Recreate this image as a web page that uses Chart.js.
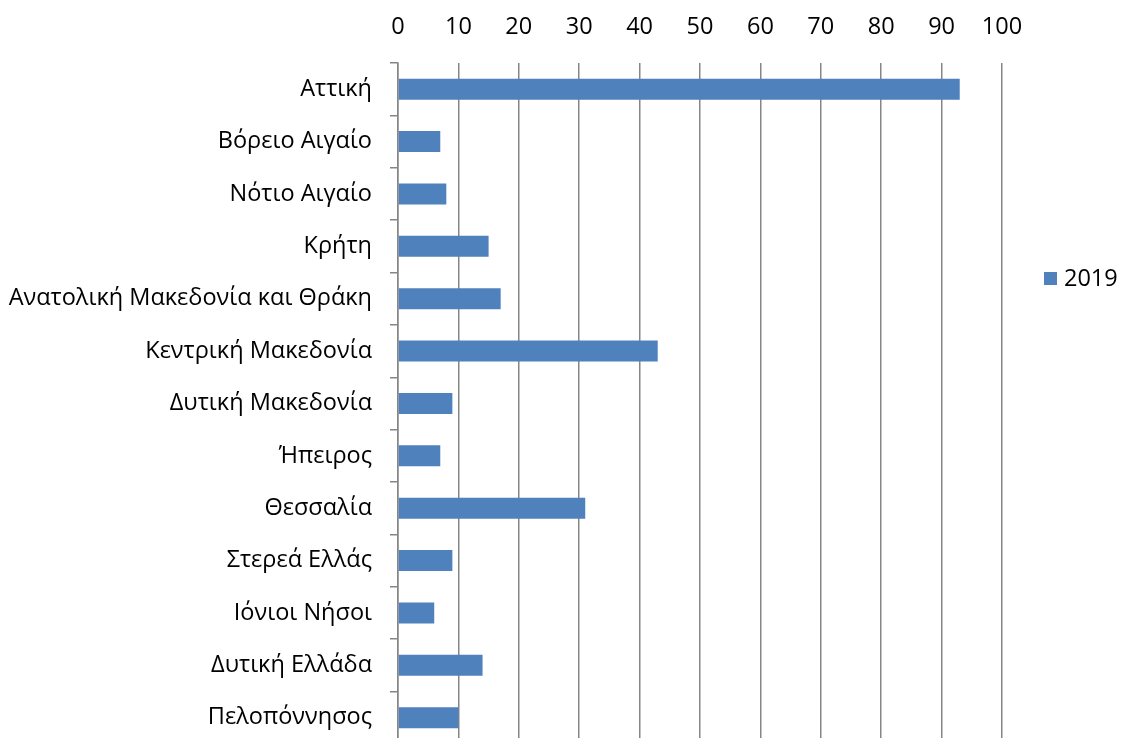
<!DOCTYPE html>
<html>
<head>
<meta charset="utf-8">
<script src="https://cdn.jsdelivr.net/npm/chart.js@4/dist/chart.umd.min.js"></script>
<style>
html,body{margin:0;padding:0;background:#fff;overflow:hidden;width:1122px;height:738px;}
#wrap{position:relative;width:1122px;height:738px;overflow:hidden;}
canvas{display:block;}
</style>
</head>
<body>
<div id="wrap"><canvas id="c" width="1122" height="776"></canvas></div>
<script>
const categories = ["Αττική","Βόρειο Αιγαίο","Νότιο Αιγαίο","Κρήτη","Ανατολική Μακεδονία και Θράκη","Κεντρική Μακεδονία","Δυτική Μακεδονία","Ήπειρος","Θεσσαλία","Στερεά Ελλάς","Ιόνιοι Νήσοι","Δυτική Ελλάδα","Πελοπόννησος"];
const values2019 = [93,7,8,15,17,43,9,7,31,9,6,14,10];
const seriesLabel = "2019";
const xTicks = [0,10,20,30,40,50,60,70,80,90,100];

const FONT = "'Open Sans', sans-serif";
const FS = 23.5;
const GRID = "#868686";

const legendPlugin = {
  id: 'customLegend',
  afterDraw(chart) {
    const ctx = chart.ctx;
    const ds = chart.data.datasets[0];
    ctx.save();
    ctx.fillStyle = ds.backgroundColor;
    ctx.fillRect(1044, 272, 13, 13);
    ctx.fillStyle = '#000';
    ctx.font = FS + "px " + FONT;
    ctx.textBaseline = 'middle';
    ctx.textAlign = 'left';
    ctx.fillText(ds.label, 1064, 279);
    ctx.restore();
  }
};

new Chart(document.getElementById('c'), {
  type: 'bar',
  data: {
    labels: categories,
    datasets: [{
      label: seriesLabel,
      data: values2019,
      backgroundColor: '#4F81BD',
      borderWidth: 0,
      barPercentage: 0.4,
      categoryPercentage: 1.0
    }]
  },
  options: {
    indexAxis: 'y',
    responsive: false,
    animation: false,
    devicePixelRatio: 1,
    layout: { padding: { left: 0, right: 120, top: 0, bottom: 0 } },
    plugins: { legend: { display: false }, tooltip: { enabled: false } },
    scales: {
      x: {
        position: 'top',
        min: 0, max: 100,
        afterBuildTicks(scale) { scale.ticks = xTicks.map(v => ({ value: v })); },
        afterFit(scale) { scale.height = 63; },
        grid: { color: GRID, lineWidth: 1.5, drawTicks: false },
        border: { display: false },
        ticks: { color: '#000', font: { family: FONT, size: FS }, padding: 22 }
      },
      y: {
        afterFit(scale) { scale.width = 398; },
        grid: { display: true, drawOnChartArea: false, drawTicks: true, tickLength: 8, offset: true, color: GRID, lineWidth: 1.5 },
        border: { display: true, color: GRID, width: 1.5 },
        ticks: { color: '#000', font: { family: FONT, size: FS }, padding: 18 }
      }
    }
  },
  plugins: [legendPlugin]
});
</script>
</body>
</html>
